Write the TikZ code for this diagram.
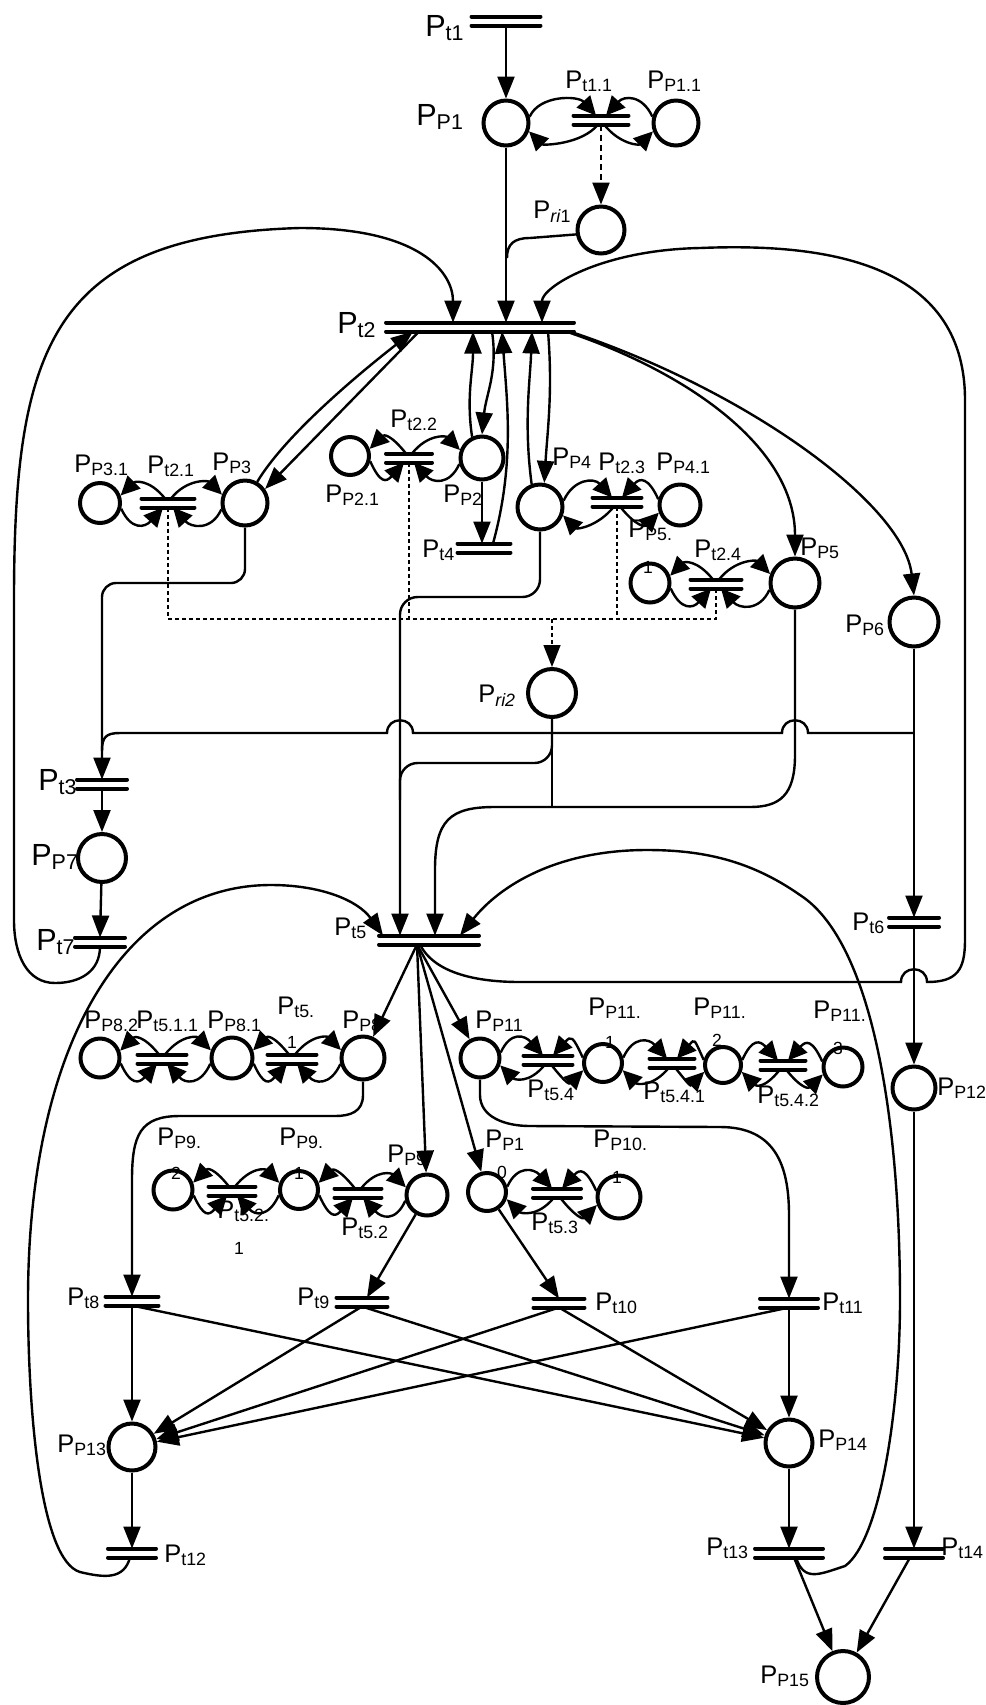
\documentclass[tikz,border=0pt]{standalone}
\usepackage{fontspec}
\setmainfont{Liberation Sans}
\usetikzlibrary{arrows.meta,calc}
\newcommand{\pname}[1]{P\textsubscript{#1}}
\newcommand{\loopin}[3]{%
  \draw[sarr] (#1.15) .. controls +(10,-22) and +(-18,-20) .. ($(#2.north)+(-5,0)$);
  \draw[sarr] (#3.165) .. controls +(-10,-22) and +(18,-20) .. ($(#2.north)+(5,0)$);
  \draw[sarr] ($(#2.south)+(-3,0)$) .. controls +(-16,20) and +(14,14) .. (#1.-20);
  \draw[sarr] ($(#2.south)+(3,0)$) .. controls +(16,20) and +(-14,14) .. (#3.-160);}
\newcommand{\loopout}[3]{%
  \draw[sarr] ($(#2.north)+(-3,0)$) .. controls +(-16,-20) and +(14,-14) .. (#1.20);
  \draw[sarr] ($(#2.north)+(3,0)$) .. controls +(16,-20) and +(-14,-14) .. (#3.160);
  \draw[sarr] (#1.-15) .. controls +(10,22) and +(-18,20) .. ($(#2.south)+(-5,0)$);
  \draw[sarr] (#3.-165) .. controls +(-10,22) and +(18,20) .. ($(#2.south)+(5,0)$);}
\begin{document}
\begin{tikzpicture}[x=0.02cm,y=-0.02cm,>={Triangle[length=0.44cm,width=0.34cm]},
  place/.style={draw, circle, line width=0.08cm, inner sep=0pt},
  tbar/.style={draw, line width=0.08cm, line cap=round},
  tr/.style={rectangle, inner sep=0pt, outer sep=0pt, minimum height=0.18cm,
    append after command={(\tikzlastnode.north west) edge[tbar] (\tikzlastnode.north east)
      (\tikzlastnode.south west) edge[tbar] (\tikzlastnode.south east)}},
  con/.style={line width=0.048cm},
  arr/.style={con, ->},
  sarr/.style={con, -{Triangle[length=0.38cm,width=0.36cm]}},
  dsh/.style={line width=0.028cm, dash pattern=on 0.08cm off 0.06cm},
  lbl/.style={font=\fontsize{14.5}{16}\selectfont, inner sep=0pt, anchor=base west},
  biglbl/.style={lbl, font=\fontsize{17.4}{20}\selectfont},
  dig/.style={font=\fontsize{10}{11}\selectfont, inner sep=0pt}]
\useasboundingbox (0,0) rectangle (985,1705);

\node[tr, minimum width=1.38cm] (t1) at (506,21) {};
\node[place, minimum size=0.9cm] (p1) at (506,123) {};
\node[tr, minimum width=1.1cm] (t1x1) at (601,120) {};
\node[place, minimum size=0.9cm] (p1x1) at (676,123) {};
\node[place, minimum size=0.94cm] (ri1) at (601,230) {};
\node[tr, minimum width=3.76cm] (t2) at (480,327) {};
\node[place, minimum size=0.8cm] (p3x1) at (100,503) {};
\node[tr, minimum width=1.06cm] (t2x1) at (168,503) {};
\node[place, minimum size=0.9cm] (p3) at (245,503) {};
\node[place, minimum size=0.76cm] (p2x1) at (350,456) {};
\node[tr, minimum width=0.92cm] (t2x2) at (409,458) {};
\node[place, minimum size=0.86cm] (p2) at (482,458) {};
\node[tr, minimum width=1.06cm] (t4) at (484,548) {};
\node[place, minimum size=0.9cm] (p4) at (540,507) {};
\node[tr, minimum width=0.98cm] (t2x3) at (617,502) {};
\node[place, minimum size=0.82cm] (p4x1) at (680,505) {};
\node[place, minimum size=0.78cm] (p5x1) at (650,583) {};
\node[tr, minimum width=1.02cm] (t2x4) at (716,584) {};
\node[place, minimum size=0.98cm] (p5) at (795,583) {};
\node[place, minimum size=0.98cm] (p6) at (914,622) {};
\node[place, minimum size=0.96cm] (ri2) at (552,693) {};
\node[tr, minimum width=1.0cm] (t3) at (102,784) {};
\node[place, minimum size=0.96cm] (p7) at (102,858) {};
\node[tr, minimum width=1.0cm] (t7) at (100,942) {};
\node[tr, minimum width=2.0cm] (t5) at (429,940) {};
\node[tr, minimum width=1.0cm] (t6) at (914,922) {};
\node[place, minimum size=0.78cm] (p8x2) at (100,1058) {};
\node[tr, minimum width=0.98cm] (t5x1x1) at (162,1059) {};
\node[place, minimum size=0.82cm] (p8x1) at (232,1058) {};
\node[tr, minimum width=0.98cm] (t5x1) at (292,1059) {};
\node[place, minimum size=0.86cm] (p8) at (363,1058) {};
\node[place, minimum size=0.78cm] (p11) at (480,1058) {};
\node[tr, minimum width=0.98cm] (t5x4) at (548,1060) {};
\node[place, minimum size=0.76cm] (p11x1) at (603,1063) {};
\node[tr, minimum width=0.9cm] (t5x4x1) at (672,1063) {};
\node[place, minimum size=0.72cm] (p11x2) at (723,1065) {};
\node[tr, minimum width=0.9cm] (t5x4x2) at (783,1065) {};
\node[place, minimum size=0.78cm] (p11x3) at (843,1067) {};
\node[place, minimum size=0.86cm] (p12) at (914,1088) {};
\node[place, minimum size=0.78cm] (p9x2) at (173,1190) {};
\node[tr, minimum width=0.94cm] (t5x2x1) at (232,1191) {};
\node[place, minimum size=0.76cm] (p9x1) at (299,1190) {};
\node[tr, minimum width=0.94cm] (t5x2) at (358,1193) {};
\node[place, minimum size=0.82cm] (p9) at (427,1195) {};
\node[place, minimum size=0.76cm] (p10) at (487,1192) {};
\node[tr, minimum width=0.96cm] (t5x3) at (557,1193) {};
\node[place, minimum size=0.86cm] (p10x1) at (619,1197) {};
\node[tr, minimum width=1.06cm] (t8) at (132,1301) {};
\node[tr, minimum width=1.02cm] (t9) at (362,1302) {};
\node[tr, minimum width=1.02cm] (t10) at (559,1303) {};
\node[tr, minimum width=1.16cm] (t11) at (789,1303) {};
\node[place, minimum size=0.94cm] (p13) at (132,1447) {};
\node[place, minimum size=0.94cm] (p14) at (789,1443) {};
\node[tr, minimum width=0.96cm] (t12) at (132,1553) {};
\node[tr, minimum width=1.36cm] (t13) at (789,1553) {};
\node[tr, minimum width=1.16cm] (t14) at (914,1553) {};
\node[place, minimum size=1.04cm] (p15) at (843,1677) {};

\node[biglbl] (lt1) at (425,36) {\pname{t1}};
\node[biglbl] (lp1) at (416,125) {\pname{P1}};
\node[lbl] (lt1x1) at (565,88) {\pname{t1.1}};
\node[lbl] (lp1x1) at (647,88) {\pname{P1.1}};
\node[lbl] (lri1) at (533,218) {P\textsubscript{\textit{ri}1}};
\node[biglbl] (lt2) at (337,333) {\pname{t2}};
\node[lbl] (lp3x1) at (74,472) {\pname{P3.1}};
\node[lbl] (lt2x1) at (147,473) {\pname{t2.1}};
\node[lbl] (lp3) at (212,470) {\pname{P3}};
\node[lbl] (lt2x2) at (390,427) {\pname{t2.2}};
\node[lbl] (lp2x1) at (325,502) {\pname{P2.1}};
\node[lbl] (lp2) at (443,502) {\pname{P2}};
\node[lbl] (lt4) at (422,557) {\pname{t4}};
\node[lbl] (lp4) at (552,465) {\pname{P4}};
\node[lbl] (lt2x3) at (598,470) {\pname{t2.3}};
\node[lbl] (lp4x1) at (656,470) {\pname{P4.1}};
\node[lbl] (lp5x1) at (628,537) {\pname{P5.}};
\node[dig] (dp5x1) at (648,567) {1};
\node[lbl] (lt2x4) at (694,557) {\pname{t2.4}};
\node[lbl] (lp5) at (800,555) {\pname{P5}};
\node[lbl] (lp6) at (845,632) {\pname{P6}};
\node[lbl] (lri2) at (478,702) {P\textsubscript{\textit{ri2}}};
\node[biglbl] (lt3) at (38,790) {\pname{t3}};
\node[biglbl] (lp7) at (31,865) {\pname{P7}};
\node[biglbl] (lt7) at (36,950) {\pname{t7}};
\node[lbl] (lt5) at (334,935) {\pname{t5}};
\node[lbl] (lt6) at (852,930) {\pname{t6}};
\node[lbl] (lp8x2) at (84,1028) {\pname{P8.2}};
\node[lbl] (lt5x1x1) at (136,1028) {\pname{t5.1.1}};
\node[lbl] (lp8x1) at (207,1028) {\pname{P8.1}};
\node[lbl] (lt5x1) at (277,1014) {\pname{t5.}};
\node[dig] (dt5x1) at (292,1042) {1};
\node[lbl] (lp8) at (342,1028) {\pname{P8}};
\node[lbl] (lp11) at (475,1028) {\pname{P11}};
\node[lbl] (lp11x1) at (588,1015) {\pname{P11.}};
\node[dig] (dp11x1) at (610,1042) {1};
\node[lbl] (lp11x2) at (693,1015) {\pname{P11.}};
\node[dig] (dp11x2) at (717,1040) {2};
\node[lbl] (lp11x3) at (813,1018) {\pname{P11.}};
\node[dig] (dp11x3) at (838,1048) {3};
\node[lbl] (lt5x4) at (527,1097) {\pname{t5.4}};
\node[lbl] (lt5x4x1) at (643,1099) {\pname{t5.4.1}};
\node[lbl] (lt5x4x2) at (757,1103) {\pname{t5.4.2}};
\node[lbl] (lp12) at (937,1095) {\pname{P12}};
\node[lbl] (lp9x2) at (157,1145) {\pname{P9.}};
\node[dig] (dp9x2) at (176,1173) {2};
\node[lbl] (lp9x1) at (279,1145) {\pname{P9.}};
\node[dig] (dp9x1) at (299,1173) {1};
\node[lbl] (lp9) at (387,1162) {\pname{P9}};
\node[lbl] (lt5x2x1) at (217,1218) {\pname{t5.2.}};
\node[dig] (dt5x2x1) at (239,1248) {1};
\node[lbl] (lt5x2) at (341,1235) {\pname{t5.2}};
\node[lbl] (lp10) at (485,1147) {\pname{P1}};
\node[dig] (dp10) at (502,1172) {0};
\node[lbl] (lp10x1) at (593,1147) {\pname{P10.}};
\node[dig] (dp10x1) at (617,1177) {1};
\node[lbl] (lt5x3) at (531,1230) {\pname{t5.3}};
\node[lbl] (lt8) at (67,1305) {\pname{t8}};
\node[lbl] (lt9) at (297,1305) {\pname{t9}};
\node[lbl] (lt10) at (595,1310) {\pname{t10}};
\node[lbl] (lt11) at (822,1310) {\pname{t11}};
\node[lbl] (lp13) at (57,1452) {\pname{P13}};
\node[lbl] (lp14) at (818,1447) {\pname{P14}};
\node[lbl] (lt12) at (164,1562) {\pname{t12}};
\node[lbl] (lt13) at (706,1555) {\pname{t13}};
\node[lbl] (lt14) at (941,1555) {\pname{t14}};
\node[lbl] (lp15) at (760,1683) {\pname{P15}};

\loopin{p1}{t1x1}{p1x1}
\loopout{p3x1}{t2x1}{p3}
\loopout{p2x1}{t2x2}{p2}
\loopin{p4}{t2x3}{p4x1}
\loopout{p5x1}{t2x4}{p5}
\loopout{p8x2}{t5x1x1}{p8x1}
\loopout{p8x1}{t5x1}{p8}
\loopout{p9x2}{t5x2x1}{p9x1}
\loopout{p9x1}{t5x2}{p9}
\loopin{p10}{t5x3}{p10x1}
\loopin{p11}{t5x4}{p11x1}
\loopin{p11x1}{t5x4x1}{p11x2}
\loopin{p11x2}{t5x4x2}{p11x3}

\draw[arr] (t1.south) -- (p1);
\draw[con, dash pattern=on 0.12cm off 0.08cm, ->] (t1x1.south) -- (ri1);
\draw[arr] (p1) -- (p1 |- t2.north);
\draw[con] (ri1.190) -- (530,238) .. controls +(-16,0) and +(0,-14) .. (507,258);
\draw[arr] (t7.south) .. controls +(0,25) and +(25,0) .. (55,983) .. controls +(-28,0) and +(0,35) .. (14,920) -- (14,600) .. controls +(0,-250) and +(-250,7) .. (300,228) .. controls +(120,0) and +(0,-50) .. ($(t2.north)+(-27,0)$);
\draw[arr] ($(t5.south)+(-9,0)$) .. controls +(15,30) and +(-40,0) .. (520,982) -- (901,982) .. controls +(0,-17) and +(0,-17) .. (927,982) .. controls +(30,0) and +(0,30) .. (965,940) -- (965,400) .. controls +(0,-140) and +(120,-5) .. (700,248) .. controls +(-100,2) and +(0,-35) .. ($(t2.north)+(62,0)$);
\draw[arr] (p3.60) .. controls +(30,-50) and +(-45,35) .. ($(t2.south west)+(27,0)$);
\draw[arr] ($(t2.south west)+(33,0)$) -- (p3.35);
\draw[arr] (p2.115) .. controls +(-6,-40) and +(0,40) .. ($(t2.south)+(-7,0)$);
\draw[arr] ($(t2.south)+(12,0)$) .. controls +(6,40) and +(4,-40) .. (p2.north);
\draw[arr] ($(t4.north)+(9,0)$) .. controls +(22,-80) and +(5,70) .. ($(t2.south)+(22,0)$);
\draw[arr] (p4.110) .. controls +(-8,-60) and +(-2,50) .. ($(t2.south)+(52,0)$);
\draw[arr] ($(t2.south)+(68,0)$) .. controls +(5,60) and +(3,-50) .. (p4.80);
\draw[arr] ($(t2.south east)+(-8,0)$) .. controls +(120,40) and +(0,-110) .. (p5.north);
\draw[arr] ($(t2.south east)+(-4,0)$) .. controls +(180,60) and +(-10,-90) .. (p6.north);
\draw[arr] (p2) -- (p2 |- t4.north);

\draw[dsh] (t2x1.south) -- (t2x1.south |- 0,619) -- (t2x4.south |- 0,619) -- (t2x4.south);
\draw[dsh] (t2x2.south) -- (t2x2.south |- 0,619);
\draw[dsh] (t2x3.south) -- (t2x3.south |- 0,619);
\draw[dsh, ->] (552,619) -- (ri2);

\draw[arr, rounded corners=8pt] (p3.south) -- (245,583) -- (102,583) -- (t3.north);
\draw[con] (914,733) -- (808,733) .. controls +(0,-17) and +(0,-17) .. (782,733) -- (413,733) .. controls +(0,-17) and +(0,-17) .. (387,733) -- (120,733) .. controls +(-14,0) and +(0,-14) .. (102,751);
\draw[arr] (t3.south) -- (p7);
\draw[arr] (p7) -- (t7.north);
\draw[arr, rounded corners=10pt] (p4.south) -- (540,597) -- (400,597) -- ($(t5.north)+(-29,0)$);
\draw[con, rounded corners=10pt] (ri2.south) -- (552,763) -- (400,763) -- (400,800);
\draw[con] (ri2.south) -- (552,807);
\draw[arr] (p5.south) -- (795,755) .. controls +(0,40) and +(30,0) .. (750,807) -- (495,807) .. controls +(-45,0) and +(0,-50) .. (435,870) -- ($(t5.north)+(6,0)$);
\draw[arr] ($(t13.south)+(7,0)$) .. controls +(8,25) and +(-25,8) .. (845,1566) .. controls +(35,-25) and +(0,110) .. (900,1300) .. controls +(0,-190) and +(70,45) .. (800,895) .. controls +(-50,-35) and +(55,0) .. (647,850) .. controls +(-90,0) and +(40,-50) .. ($(t5.north)+(31,0)$);
\draw[arr] ($(t12.south)+(-2,0)$) .. controls +(-6,22) and +(25,6) .. (80,1572) .. controls +(-40,-12) and +(0,110) .. (28,1300) .. controls +(0,-250) and +(-150,0) .. (271,885) .. controls +(50,0) and +(-25,-35) .. ($(t5.north)+(-46,0)$);
\draw[arr] (p6) -- (t6.north);
\draw[arr] (t6.south) -- (p12);
\draw[arr] (p12) -- (p12 |- t14.north);

\coordinate (fan) at ($(t5.south)+(-12,0)$);
\draw[arr] (fan) -- (p8);
\draw[arr] (fan) -- (p9);
\draw[arr] (fan) -- (p10);
\draw[arr] (fan) -- (p11);
\draw[arr] (p8.south) -- (363,1095) .. controls +(0,17) and +(15,0) .. (335,1116) -- (180,1116) .. controls +(-40,0) and +(0,-45) .. (132,1180) -- (t8.north);
\draw[arr] (p11.south) -- (480,1095) .. controls +(0,22) and +(-25,0) .. (530,1126) -- (720,1127) .. controls +(55,0) and +(0,-50) .. (789,1215) -- (t11.north);
\draw[arr] (p9) -- ($(t9.north)+(5,0)$);
\draw[arr] (p10) -- (t10.north);

\draw[arr] (t8.south) -- (p13);
\draw[arr] (t8.south) -- (p14);
\draw[arr] (t9.south) -- (p13);
\draw[arr] (t9.south) -- (p14);
\draw[arr] (t10.south) -- (p13);
\draw[arr] (t10.south) -- (p14);
\draw[arr] (t11.south) -- (p13);
\draw[arr] (t11.south) -- (p14);
\draw[arr] (p13) -- (t12.north);
\draw[arr] (p14) -- (t13.north);
\draw[arr] ($(t13.south)+(5,0)$) -- (p15);
\draw[arr] ($(t14.south)+(-4,0)$) -- (p15);
\end{tikzpicture}
\end{document}
